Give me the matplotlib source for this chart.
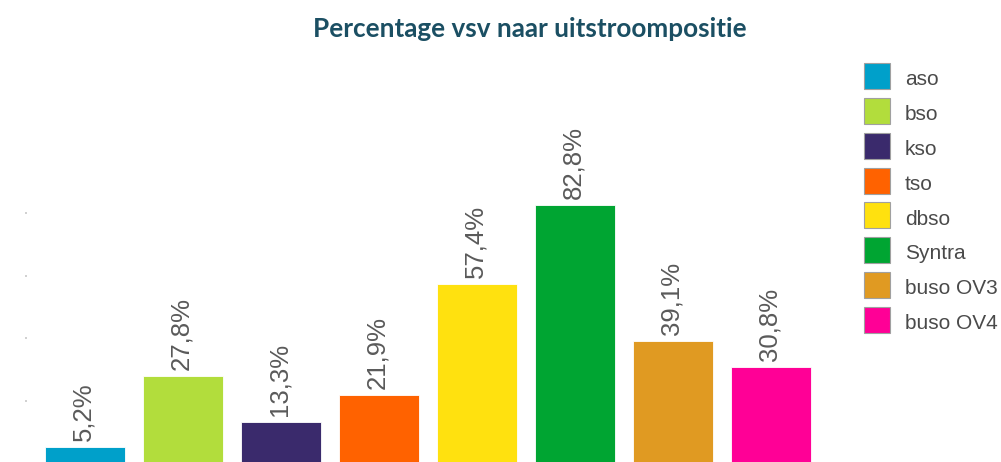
import matplotlib
matplotlib.use("Agg")
import matplotlib.pyplot as plt
from matplotlib.lines import Line2D

categories = ["aso", "bso", "kso", "tso", "dbso", "Syntra", "buso OV3", "buso OV4"]
values = [5.2, 27.8, 13.3, 21.9, 57.4, 82.8, 39.1, 30.8]
colors = ["#00a0ca", "#b2dd3c", "#3a2a6c", "#ff6200", "#ffe10f", "#00a532", "#e09a22", "#ff0096"]
title = "Percentage vsv naar uitstroompositie"

W, H = 1001, 462
fig = plt.figure(figsize=(W / 100, H / 100), dpi=100)

def px_rect(left, top, right, bottom):
    return [left / W, 1 - bottom / H, (right - left) / W, (bottom - top) / H]

ax = fig.add_axes(px_rect(27, 151, 831, 463))
x = list(range(len(categories)))
ax.bar(x, values, width=0.81, color=colors, edgecolor="white", linewidth=0.6)
ax.set_xlim(-0.592, 7.612)
ax.set_ylim(0, 100)
for s in ax.spines.values():
    s.set_visible(False)
ax.set_xticks([])
ax.set_yticks([0, 20, 40, 60, 80])
ax.set_yticklabels([])
ax.tick_params(axis="y", length=1.6, width=1.2, color="#c8c8c8", direction="out")

for xi, v in zip(x, values):
    ax.annotate(f"{v:.1f}%".replace(".", ","), (xi, v), xytext=(-2, 6),
                textcoords="offset pixels", rotation=90, ha="center", va="bottom",
                fontsize=18.5, family="Liberation Sans", color="#5a5a5a")

t = fig.text(530 / W, 1 - 37 / H, title, ha="center", va="baseline",
             fontsize=20, fontweight="bold", family="Lato", color="#1b4f63")
fig.canvas.draw()
r = fig.canvas.get_renderer()
w = t.get_window_extent(r).width
t.set_fontsize(20 * 434 / w)

handles = [Line2D([], [], linestyle="none", marker="s", markersize=27 * 0.72,
                  markerfacecolor=c, markeredgecolor="#a0a0a0", markeredgewidth=0.8)
           for c in colors]
leg = fig.legend(handles, categories, loc="upper left",
                 bbox_to_anchor=(863 / W, 1 - 67 / H), frameon=False,
                 borderpad=0, borderaxespad=0, handlelength=1.3, handleheight=1.3,
                 handletextpad=0.7, labelspacing=0.58,
                 prop={"family": "Liberation Sans", "size": 15})
for txt in leg.get_texts():
    txt.set_color("#4a4a4a")

fig.savefig("out.png", dpi=100)
